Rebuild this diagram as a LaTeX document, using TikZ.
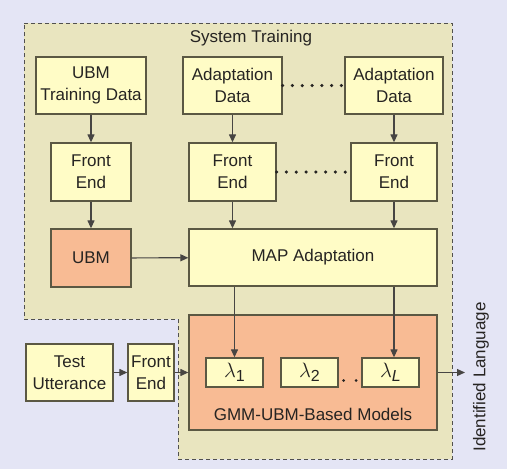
\documentclass[tikz,border=0pt]{standalone}
\usepackage{fontspec}
\setmainfont{Liberation Sans}
\usepackage{tikz}
\usetikzlibrary{arrows.meta}
\definecolor{bgblue}{HTML}{E4E5F5}
\definecolor{trainbg}{HTML}{E9E5BF}
\definecolor{boxyellow}{HTML}{FFFCC6}
\definecolor{boxorange}{HTML}{F8BB94}
\definecolor{edgegrey}{HTML}{5B5843}
\definecolor{inkgrey}{HTML}{262422}
\newcommand{\lamsub}[1]{{\fontsize{20}{22}\selectfont$\lambda$}\raisebox{-4pt}{\fontsize{16}{16}\selectfont #1}}

\begin{document}
\begin{tikzpicture}[x=1pt,y=-1pt,
        font=\fontsize{17}{22}\selectfont,
        block/.style={draw=edgegrey, line width=1.3pt, fill=boxyellow, align=center, inner sep=0pt, text=inkgrey},
        orangeblock/.style={block, fill=boxorange},
        flow/.style={draw=inkgrey!85, line width=1.2pt, -{Triangle[length=8pt,width=7pt]}},
        dotline/.style={draw=inkgrey, line width=3.5pt, line cap=round, dash pattern=on 0pt off 9.8pt}]
        \fill[bgblue] (0,0) rectangle (507,469);
        \useasboundingbox (0,0) rectangle (507,469);

        \draw[inkgrey!80, line width=1pt, dash pattern=on 4pt off 3pt, fill=trainbg]
            (24,23) -- (452,23) -- (452,459) -- (178,459) -- (178,319) -- (24,319) -- cycle;
        \node[text=inkgrey] (systrain) at (251,38) {System Training};

        \node[block, minimum width=110pt, minimum height=57pt] (utd) at (91,85.5) {UBM\\Training Data};
        \node[block, minimum width=99pt, minimum height=57pt] (ad1) at (232.5,85.5) {Adaptation\\Data};
        \node[block, minimum width=98pt, minimum height=57pt] (ad2) at (394,85.5) {Adaptation\\Data};

        \node[block, minimum width=80pt, minimum height=58pt] (fe1) at (91,172) {Front\\End};
        \node[block, minimum width=87pt, minimum height=58pt] (fe2) at (232.5,172) {Front\\End};
        \node[block, minimum width=86pt, minimum height=58pt] (fe3) at (394,172) {Front\\End};

        \node[orangeblock, minimum width=80pt, minimum height=58pt] (ubm) at (91,258) {UBM};
        \node[block, minimum width=248pt, minimum height=57pt] (map) at (313,257.5) {MAP Adaptation};

        \node[orangeblock, minimum width=248pt, minimum height=115pt] (gmm) at (313,372.5) {};
        \node[text=inkgrey] (gmmlabel) at (313,414) {GMM-UBM-Based Models};
        \node[block, minimum width=57pt, minimum height=29pt] (l1) at (234.5,372.5) {\lamsub{1}};
        \node[block, minimum width=57pt, minimum height=29pt] (l2) at (309.5,372.5) {\lamsub{2}};
        \node[block, minimum width=57pt, minimum height=29pt] (lL) at (390.5,372.5) {\lamsub{\itshape L}};

        \node[block, minimum width=87pt, minimum height=57pt] (test) at (69.5,372.5) {Test\\Utterance};
        \node[block, minimum width=46pt, minimum height=57pt] (fe4) at (151,372.5) {Front\\End};

        \coordinate (out) at (465,372.5);
        \node[rotate=90, text=inkgrey] (idlang) at (481,377) {Identified Language};

        \draw[flow] (utd) -- (fe1);
        \draw[flow] (fe1) -- (ubm);
        \draw[flow] (ad1) -- (fe2);
        \draw[flow] (ad2) -- (fe3);
        \draw[flow] (fe2.south) -- (map.north -| fe2);
        \draw[flow] (fe3.south) -- (map.north -| fe3);
        \draw[flow] (ubm) -- (map);
        \draw[flow] (map.south -| l1) -- (l1.north);
        \draw[flow] (map.south -| fe3) -- (lL.north -| fe3);
        \draw[flow] (test) -- (fe4);
        \draw[flow] (fe4) -- (gmm);
        \draw[flow] (gmm.east) -- (out);

        \draw[dotline] (ad1.east) -- (ad2.west);
        \draw[dotline] (fe2.east) -- (fe3.west);
        \draw[dotline, line width=3pt, dash pattern=on 0pt off 12.5pt] ([shift={(5,8)}]l2.east) -- ([shift={(-4.5,8)}]lL.west);
    \end{tikzpicture}
\end{document}
